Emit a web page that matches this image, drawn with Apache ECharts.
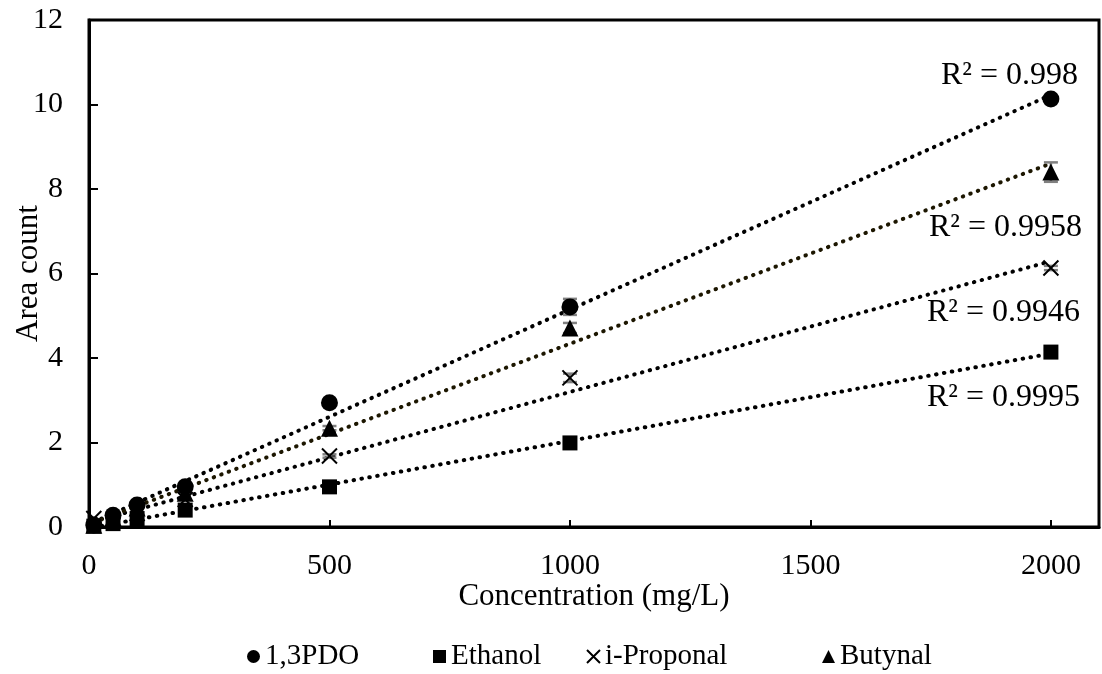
<!DOCTYPE html>
<html>
<head>
<meta charset="utf-8">
<script src="https://cdn.jsdelivr.net/npm/echarts@6/dist/echarts.min.js"></script>
<style>
  html, body { margin: 0; padding: 0; background: #ffffff; }
  #chart { width: 1102px; height: 674px; }
</style>
</head>
<body>
<div id="chart"></div>
<script>
// Calibration data: area count vs. concentration (mg/L)
const concentration = [10, 50, 100, 200, 500, 1000, 2000];
const pdo      = [0.05, 0.28, 0.52, 0.95, 2.94, 5.21, 10.13];
const ethanol  = [0.02, 0.08, 0.20, 0.40, 0.95, 1.99, 4.14];
const proponal = [0.20, 0.15, 0.32, 0.65, 1.68, 3.53, 6.13];
const butynal  = [0.04, 0.22, 0.45, 0.80, 2.34, 4.71, 8.40];

// Standard deviations (error bars)
const pdoErr      = [0, 0, 0, 0, 0.03, 0.19, 0.05];
const ethanolErr  = [0, 0, 0, 0, 0.02, 0.03, 0.06];
const proponalErr = [0, 0, 0, 0, 0.04, 0.10, 0.05];
const butynalErr  = [0, 0, 0, 0, 0.05, 0.12, 0.23];

const seriesNames = ['1,3PDO', 'Ethanol', 'i-Proponal', 'Butynal'];
const r2Labels = ['R² = 0.998', 'R² = 0.9995', 'R² = 0.9946', 'R² = 0.9958'];

const xTicks = [0, 500, 1000, 1500, 2000];
const yTicks = [0, 2, 4, 6, 8, 10, 12];

const FONT = "'Liberation Serif', 'Times New Roman', serif";
const CROSS = 'path://M0,0L10,10M10,0L0,10';

const groups = [
  { name: seriesNames[0], values: pdo,      err: pdoErr,      symbol: 'circle',   size: 17, trendColor: '#000000' },
  { name: seriesNames[1], values: ethanol,  err: ethanolErr,  symbol: 'rect',     size: 15, trendColor: '#000000' },
  { name: seriesNames[2], values: proponal, err: proponalErr, symbol: CROSS,      size: 15, trendColor: '#000000' },
  { name: seriesNames[3], values: butynal,  err: butynalErr,  symbol: 'triangle', size: 17, trendColor: '#1c1600' }
];

// Least-squares linear fit
function linearFit(xs, ys) {
  const n = xs.length;
  let sx = 0, sy = 0, sxx = 0, sxy = 0;
  for (let i = 0; i < n; i++) {
    sx += xs[i]; sy += ys[i]; sxx += xs[i] * xs[i]; sxy += xs[i] * ys[i];
  }
  const b = (n * sxy - sx * sy) / (n * sxx - sx * sx);
  const a = (sy - b * sx) / n;
  return x => a + b * x;
}

const xMin = Math.min(...concentration);
const xMax = Math.max(...concentration);

const series = [];

// Dotted linear trendlines
groups.forEach(g => {
  const f = linearFit(concentration, g.values);
  series.push({
    type: 'line',
    name: g.name + ' trend',
    data: [[xMin, f(xMin)], [xMax, f(xMax)]],
    symbol: 'none',
    silent: true,
    z: 2,
    lineStyle: { color: g.trendColor, width: 4, type: [0.5, 7.5], cap: 'round', opacity: 1 }
  });
});

// Error bars
groups.forEach(g => {
  series.push({
    type: 'custom',
    name: g.name + ' error',
    silent: true,
    z: 3,
    encode: { x: 0, y: 1 },
    data: concentration.map((c, i) => [c, g.values[i], g.err[i]]),
    renderItem: (params, api) => {
      const x = api.value(0), y = api.value(1), e = api.value(2);
      if (!e) return;
      const top = api.coord([x, y + e]);
      const bot = api.coord([x, y - e]);
      const hw = 7;
      const st = { stroke: '#808080', lineWidth: 2.5 };
      return {
        type: 'group',
        children: [
          { type: 'line', shape: { x1: top[0], y1: top[1], x2: bot[0], y2: bot[1] }, style: st },
          { type: 'line', shape: { x1: top[0] - hw, y1: top[1], x2: top[0] + hw, y2: top[1] }, style: st },
          { type: 'line', shape: { x1: bot[0] - hw, y1: bot[1], x2: bot[0] + hw, y2: bot[1] }, style: st }
        ]
      };
    }
  });
});

// Measured points
groups.forEach(g => {
  const isCross = g.symbol === CROSS;
  series.push({
    type: 'scatter',
    name: g.name,
    data: concentration.map((c, i) => [c, g.values[i]]),
    symbol: g.symbol,
    symbolSize: g.size,
    z: 5,
    itemStyle: isCross
      ? { color: 'rgba(0,0,0,0)', borderColor: '#000000', borderWidth: 2, opacity: 1 }
      : { color: '#000000', opacity: 1 }
  });
});

// One legend block per series, spread along the bottom
const legendLeft = [242, 428, 581, 817];
const legends = seriesNames.map((name, i) => ({
  data: [name],
  left: legendLeft[i],
  top: 637,
  orient: 'horizontal',
  itemWidth: 13,
  itemHeight: 13,
  selectedMode: false,
  textStyle: { fontFamily: FONT, fontSize: 29, color: '#000000' }
}));

// R² annotations next to each trendline end
const r2Pos = [[1078, 76], [1080, 398], [1080, 313], [1082, 228]];
const graphics = r2Labels.map((t, i) => ({
  type: 'text',
  x: r2Pos[i][0],
  y: r2Pos[i][1],
  silent: true,
  style: {
    text: t,
    fontFamily: FONT,
    fontSize: 32,
    fill: '#000000',
    align: 'right',
    verticalAlign: 'middle'
  }
}));

const option = {
  animation: false,
  backgroundColor: '#ffffff',
  grid: {
    left: 89, right: 3, top: 20, bottom: 147,
    containLabel: false,
    outerBoundsMode: 'none',
    show: true, borderColor: '#000000', borderWidth: 3, backgroundColor: 'transparent'
  },
  xAxis: {
    type: 'value',
    min: 0, max: 2100, interval: 500,
    name: 'Concentration (mg/L)',
    nameLocation: 'middle',
    nameGap: 54,
    nameMoveOverlap: false,
    nameTextStyle: { fontFamily: FONT, fontSize: 31, color: '#000000' },
    axisLine: { show: true, lineStyle: { color: '#000000', width: 3 } },
    axisTick: { show: true, inside: true, length: 7, lineStyle: { color: '#000000', width: 2 } },
    axisLabel: {
      fontFamily: FONT, fontSize: 30, color: '#000000', margin: 24,
      formatter: v => xTicks.includes(v) ? String(v) : ''
    },
    splitLine: { show: false }
  },
  yAxis: {
    type: 'value',
    min: 0, max: 12, interval: 2,
    name: 'Area count',
    nameLocation: 'middle',
    nameGap: 45,
    nameMoveOverlap: false,
    nameRotate: 90,
    nameTextStyle: { fontFamily: FONT, fontSize: 31, color: '#000000' },
    axisLine: { show: true, lineStyle: { color: '#000000', width: 3 } },
    axisTick: { show: true, inside: true, length: 9, lineStyle: { color: '#000000', width: 2 } },
    axisLabel: {
      fontFamily: FONT, fontSize: 30, color: '#000000', margin: 26,
      formatter: v => yTicks.includes(v) ? String(v) : ''
    },
    splitLine: { show: false }
  },
  legend: legends,
  graphic: graphics,
  series: series
};

const chart = echarts.init(document.getElementById('chart'), null, { renderer: 'canvas' });
chart.setOption(option);
</script>
</body>
</html>
